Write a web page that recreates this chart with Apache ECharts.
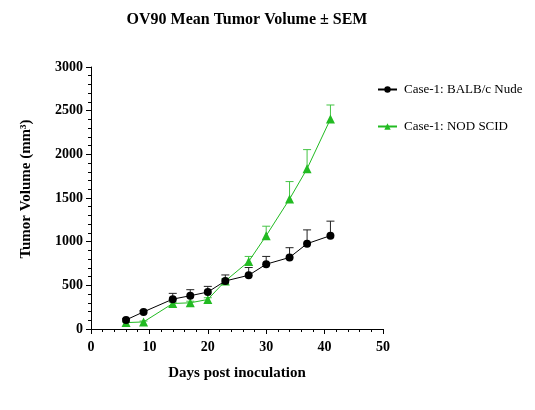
<!DOCTYPE html>
<html><head><meta charset="utf-8">
<script src="https://cdn.jsdelivr.net/npm/echarts@6/dist/echarts.min.js"></script>
<style>html,body{margin:0;padding:0;background:#fff}#c{width:535px;height:410px}</style>
</head><body><div id="c"></div>
<script>
const days = [6, 9, 14, 17, 20, 23, 27, 30, 34, 37, 41];
const balbMean = [104, 196, 342, 381, 423, 550, 615, 742, 819, 977, 1069];
const balbSem = [12, 14, 66, 69, 65, 69, 89, 89, 112, 158, 166];
const nodMean = [73, 81, 292, 300, 338, 550, 773, 1069, 1488, 1835, 2404];
const nodSem = [8, 10, 15, 18, 20, 25, 58, 108, 200, 219, 161];
const seriesNames = ['Case-1: BALB/c Nude', 'Case-1: NOD SCID'];
const colors = ['#000000', '#22bb22'];
const errColors = ['#222222', '#44c444'];

const font = '"Liberation Serif", "Times New Roman", serif';

function errSeries(mean, sem, color) {
  return {
    type: 'custom',
    silent: true,
    z: 1,
    data: days.map((d, i) => [d, mean[i], mean[i] + sem[i]]),
    renderItem: function (params, api) {
      const p0 = api.coord([api.value(0), api.value(1)]);
      const p1 = api.coord([api.value(0), api.value(2)]);
      const hw = 4;
      return {
        type: 'group',
        children: [
          { type: 'line', shape: { x1: p0[0], y1: p0[1], x2: p1[0], y2: p1[1] }, style: { stroke: color, lineWidth: 1 } },
          { type: 'line', shape: { x1: p1[0] - hw, y1: p1[1], x2: p1[0] + hw, y2: p1[1] }, style: { stroke: color, lineWidth: 1 } }
        ]
      };
    }
  };
}

const chart = echarts.init(document.getElementById('c'));
chart.setOption({
  animation: false,
  backgroundColor: '#fff',
  title: {
    text: 'OV90 Mean Tumor Volume ± SEM',
    left: 242, top: 7, textAlign: 'center',
    textStyle: { fontFamily: font, fontSize: 16, fontWeight: 'bold', color: '#000' }
  },
  legend: {
    orient: 'vertical', left: 372, top: 78, itemGap: 24,
    itemWidth: 19, itemHeight: 8,
    textStyle: { fontFamily: font, fontSize: 13, color: '#000', padding: [0, 0, 0, 2] },
    data: seriesNames
  },
  grid: { left: 91, right: 152, top: 67, bottom: 81 },
  xAxis: {
    type: 'value', min: 0, max: 50, interval: 10,
    name: 'Days post inoculation', nameLocation: 'middle', nameGap: 37,
    nameTextStyle: { fontFamily: font, fontSize: 15, fontWeight: 'bold', color: '#000' },
    axisLine: { lineStyle: { color: '#000', width: 1 } },
    axisTick: { show: true, length: 5, lineStyle: { color: '#000' } },
    minorTick: { show: true, splitNumber: 5, length: 3, lineStyle: { color: '#000' } },
    axisLabel: { fontFamily: font, fontSize: 14, fontWeight: 'bold', color: '#000', margin: 11 },
    splitLine: { show: false }
  },
  yAxis: {
    type: 'value', min: 0, max: 3000, interval: 500,
    name: 'Tumor Volume (mm³)', nameLocation: 'middle', nameGap: 57, nameRotate: 90,
    nameTextStyle: { fontFamily: font, fontSize: 15, fontWeight: 'bold', color: '#000', padding: [0, 0, 0, 18] },
    axisLine: { show: true, lineStyle: { color: '#000', width: 1 } },
    axisTick: { show: true, length: 5, lineStyle: { color: '#000' } },
    minorTick: { show: true, splitNumber: 5, length: 3, lineStyle: { color: '#000' } },
    axisLabel: { fontFamily: font, fontSize: 14, fontWeight: 'bold', color: '#000', margin: 8, formatter: v => String(v) },
    splitLine: { show: false }
  },
  series: [
    errSeries(balbMean, balbSem, errColors[0]),
    errSeries(nodMean, nodSem, errColors[1]),
    {
      name: seriesNames[0], type: 'line', z: 3,
      data: days.map((d, i) => [d, balbMean[i]]),
      symbol: 'circle', symbolSize: 8,
      lineStyle: { color: colors[0], width: 1 },
      itemStyle: { color: colors[0] }
    },
    {
      name: seriesNames[1], type: 'line', z: 2,
      data: days.map((d, i) => [d, nodMean[i]]),
      symbol: 'triangle', symbolSize: 9,
      lineStyle: { color: colors[1], width: 1 },
      itemStyle: { color: colors[1] }
    }
  ]
});
</script>
</body></html>
